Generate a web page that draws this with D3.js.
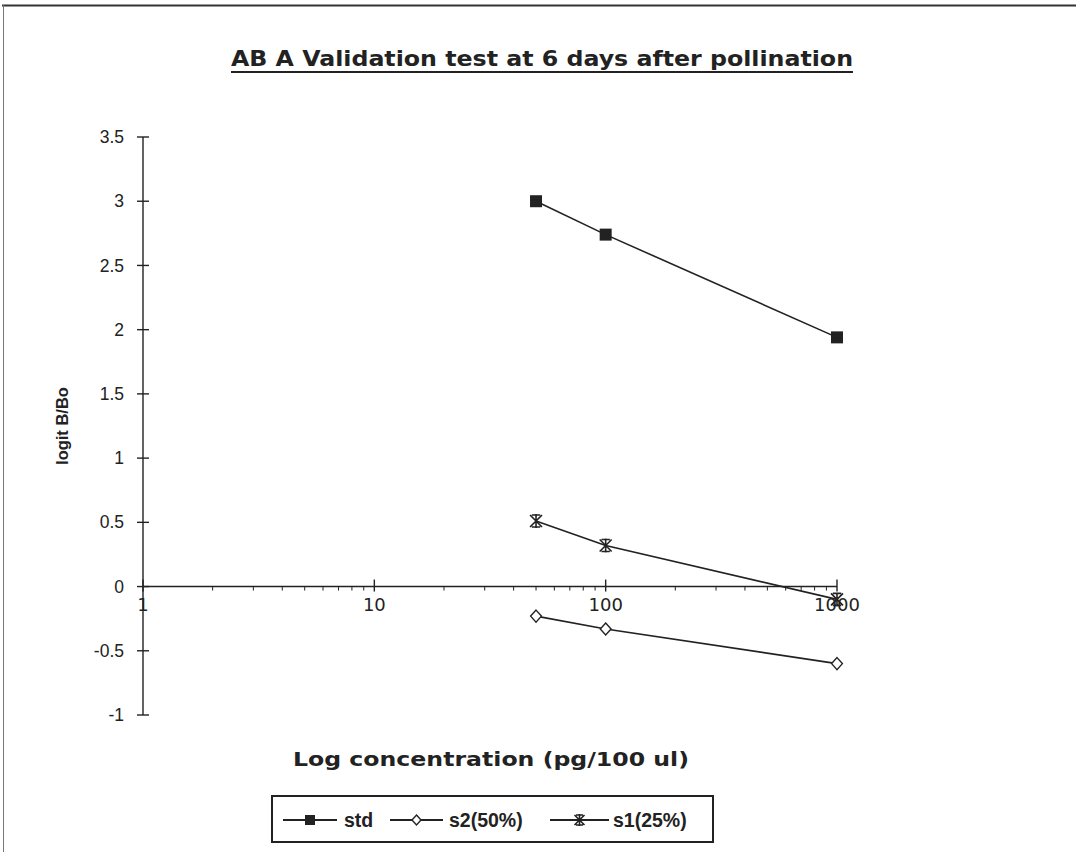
<!DOCTYPE html>
<html>
<head>
<meta charset="utf-8">
<script src="https://cdn.jsdelivr.net/npm/d3@7"></script>
<style>
  body { margin: 0; background: #fff; }
  svg { display: block; }
</style>
</head>
<body>
<svg id="chart" width="1076" height="852"></svg>
<script>
const concentrations = [50, 100, 1000];
const stdValues = [3.0, 2.74, 1.94];
const s2Values = [-0.23, -0.33, -0.60];
const s1Values = [0.51, 0.32, -0.10];
const seriesNames = ["std", "s2(50%)", "s1(25%)"];
const yTicks = [3.5, 3, 2.5, 2, 1.5, 1, 0.5, 0, -0.5, -1];
const xTicks = [1, 10, 100, 1000];
const titleText = "AB A Validation test at 6 days after pollination";
const xLabel = "Log concentration (pg/100 ul)";
const yLabel = "logit B/Bo";

const ink = "#222";
const svg = d3.select("#chart");

// frame lines (scan border)
svg.append("line").attr("x1", 2).attr("x2", 1076).attr("y1", 5.5).attr("y2", 5.5)
  .attr("stroke", "#333").attr("stroke-width", 2);
svg.append("line").attr("x1", 3.5).attr("x2", 3.5).attr("y1", 5).attr("y2", 852)
  .attr("stroke", "#777").attr("stroke-width", 1);

const x = d3.scaleLog().domain([1, 1000]).range([143, 837]);
const y = d3.scaleLinear().domain([-1, 3.5]).range([715, 137]);

// title
svg.append("text").attr("x", 542).attr("y", 66)
  .attr("text-anchor", "middle")
  .attr("font-family", "DejaVu Sans, sans-serif").attr("font-weight", "bold")
  .attr("font-size", 21).attr("fill", ink)
  .attr("textLength", 622).attr("lengthAdjust", "spacingAndGlyphs")
  .text(titleText);
svg.append("line").attr("x1", 231).attr("x2", 853).attr("y1", 72).attr("y2", 72)
  .attr("stroke", ink).attr("stroke-width", 2);

// y axis
const yAxisG = svg.append("g").attr("transform", `translate(${x(1)},0)`);
yAxisG.append("line").attr("x1", 0).attr("x2", 0).attr("y1", y(3.5)).attr("y2", y(-1))
  .attr("stroke", ink).attr("stroke-width", 1.4);
yAxisG.selectAll("line.tick").data(yTicks).join("line").attr("class", "tick")
  .attr("x1", -6).attr("x2", 6).attr("y1", d => y(d)).attr("y2", d => y(d))
  .attr("stroke", ink).attr("stroke-width", 1.4);
yAxisG.selectAll("text").data(yTicks).join("text")
  .attr("x", -19).attr("y", d => y(d)).attr("dy", "0.35em")
  .attr("text-anchor", "end")
  .attr("font-family", "Liberation Sans, Arial, sans-serif")
  .attr("font-size", 17.5).attr("fill", ink)
  .text(d => d);

// x axis at y=0
const x0 = y(0);
const xAxisG = svg.append("g");
xAxisG.append("line").attr("x1", x(1)).attr("x2", x(1000)).attr("y1", x0).attr("y2", x0)
  .attr("stroke", ink).attr("stroke-width", 1.4);
const minorTicks = x.ticks().filter(t => !xTicks.includes(t));
xAxisG.selectAll("line.minor").data(minorTicks).join("line").attr("class", "minor")
  .attr("x1", d => x(d)).attr("x2", d => x(d)).attr("y1", x0).attr("y2", x0 + 4)
  .attr("stroke", ink).attr("stroke-width", 1);
xAxisG.selectAll("line.major").data(xTicks).join("line").attr("class", "major")
  .attr("x1", d => x(d)).attr("x2", d => x(d)).attr("y1", x0 - 7).attr("y2", x0 + 5)
  .attr("stroke", ink).attr("stroke-width", 1.4);
xAxisG.selectAll("text").data(xTicks).join("text")
  .attr("x", d => x(d)).attr("y", x0 + 24)
  .attr("text-anchor", "middle")
  .attr("font-family", "DejaVu Sans, sans-serif")
  .attr("font-size", 18).attr("fill", ink)
  .text(d => d);

// axis labels
svg.append("text").attr("transform", `translate(68,${y(1.25)}) rotate(-90)`)
  .attr("text-anchor", "middle")
  .attr("font-family", "Liberation Sans, Arial, sans-serif").attr("font-weight", "bold")
  .attr("font-size", 16.5).attr("fill", ink).text(yLabel);
svg.append("text").attr("x", 491).attr("y", 766).attr("text-anchor", "middle")
  .attr("font-family", "DejaVu Sans, sans-serif").attr("font-weight", "bold")
  .attr("font-size", 20).attr("fill", ink)
  .attr("textLength", 396).attr("lengthAdjust", "spacingAndGlyphs")
  .text(xLabel);

// markers
function drawMarker(g, type, cx, cy, r) {
  r = r || 6;
  if (type === "square") {
    g.append("rect").attr("x", cx - r).attr("y", cy - r).attr("width", 2 * r).attr("height", 2 * r)
      .attr("fill", ink);
  } else if (type === "diamond") {
    g.append("path").attr("d", `M${cx},${cy - r}L${cx + r * 0.9},${cy}L${cx},${cy + r}L${cx - r * 0.9},${cy}Z`)
      .attr("fill", "#fff").attr("stroke", ink).attr("stroke-width", 1.4);
  } else {
    g.append("path").attr("d",
      `M${cx - r},${cy - r}L${cx + r},${cy + r}M${cx + r},${cy - r}L${cx - r},${cy + r}M${cx},${cy - r - 1}L${cx},${cy + r + 1}M${cx - r * 0.7},${cy - r}L${cx + r * 0.7},${cy - r}M${cx - r * 0.7},${cy + r}L${cx + r * 0.7},${cy + r}`)
      .attr("fill", "none").attr("stroke", ink).attr("stroke-width", 1.6);
  }
}

const series = [
  { name: seriesNames[0], values: stdValues, marker: "square" },
  { name: seriesNames[1], values: s2Values, marker: "diamond" },
  { name: seriesNames[2], values: s1Values, marker: "star" }
];
const line = d3.line().x(d => x(d[0])).y(d => y(d[1]));
series.forEach(s => {
  const pts = concentrations.map((c, i) => [c, s.values[i]]);
  const g = svg.append("g");
  g.append("path").attr("d", line(pts)).attr("fill", "none").attr("stroke", ink).attr("stroke-width", 1.6);
  pts.forEach(p => drawMarker(g, s.marker, x(p[0]), y(p[1])));
});

// legend
const lg = svg.append("g");
lg.append("rect").attr("x", 272).attr("y", 796).attr("width", 441).attr("height", 46)
  .attr("fill", "#fff").attr("stroke", ink).attr("stroke-width", 2);
const legendItems = [
  { lx1: 283, lx2: 337, tx: 344 },
  { lx1: 390, lx2: 443, tx: 449 },
  { lx1: 550, lx2: 609, tx: 613 }
];
const ly = 820;
series.forEach((s, i) => {
  const it = legendItems[i];
  lg.append("line").attr("x1", it.lx1).attr("x2", it.lx2).attr("y1", ly).attr("y2", ly)
    .attr("stroke", ink).attr("stroke-width", 1.8);
  drawMarker(lg, s.marker, (it.lx1 + it.lx2) / 2, ly, 5);
  lg.append("text").attr("x", it.tx).attr("y", ly).attr("dy", "0.36em")
    .attr("font-family", "Liberation Sans, Arial, sans-serif").attr("font-weight", "bold")
    .attr("font-size", 19.5).attr("fill", ink).text(s.name);
});
</script>
</body>
</html>
